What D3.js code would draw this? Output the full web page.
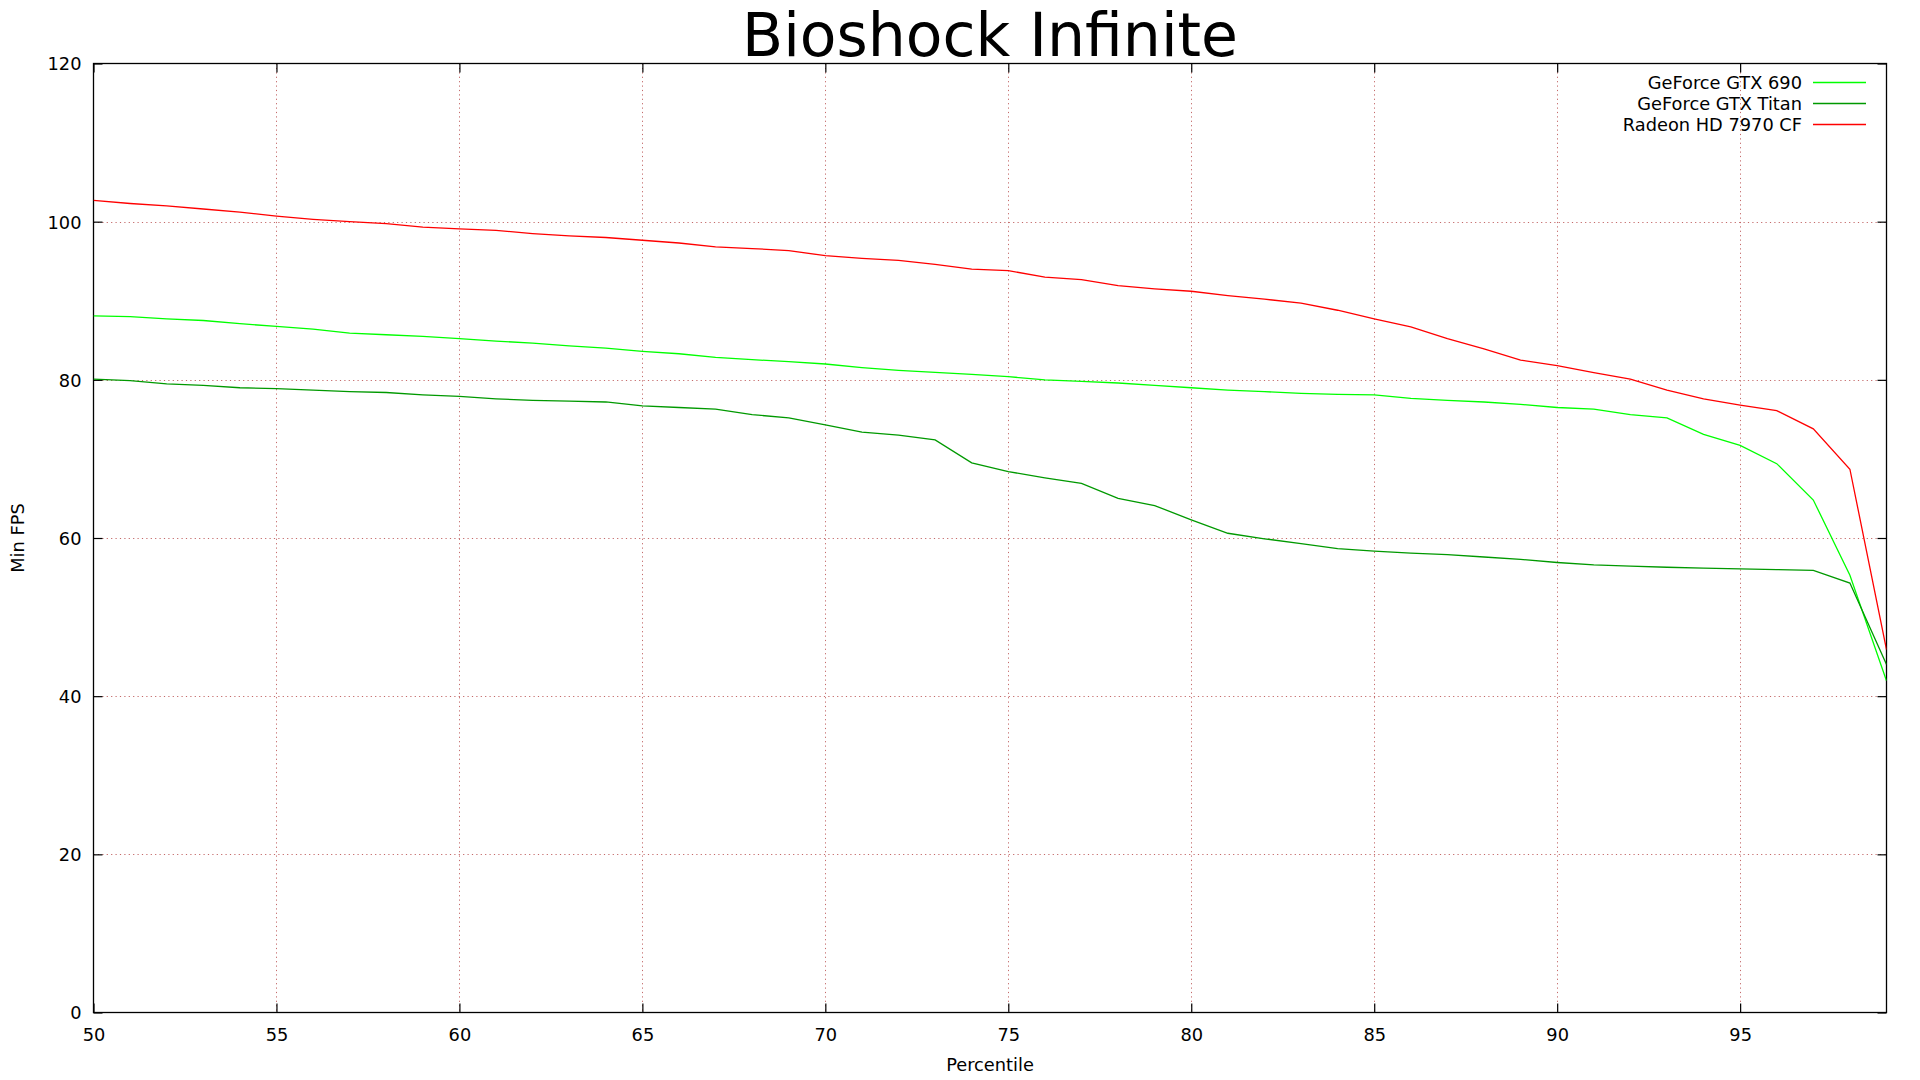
<!DOCTYPE html>
<html>
<head>
<meta charset="utf-8">
<script src="https://cdn.jsdelivr.net/npm/d3@7"></script>
<style>
  html, body { margin: 0; padding: 0; background: #fff; }
  svg { display: block; }
  text { font-family: "DejaVu Sans", sans-serif; }
</style>
</head>
<body>
<svg id="chart" width="1920" height="1080"></svg>
<script>
const title = "Bioshock Infinite";
const xLabel = "Percentile";
const yLabel = "Min FPS";
const percentiles = [50,51,52,53,54,55,56,57,58,59,60,61,62,63,64,65,66,67,68,69,70,71,72,73,74,75,76,77,78,79,80,81,82,83,84,85,86,87,88,89,90,91,92,93,94,95,96,97,98,99];
const gtx690 = [88.1,88.0,87.7,87.5,87.1,86.75,86.4,85.9,85.7,85.5,85.2,84.9,84.65,84.3,84.0,83.6,83.3,82.85,82.55,82.3,82.0,81.55,81.2,80.95,80.7,80.4,80.0,79.8,79.6,79.3,79.0,78.7,78.5,78.3,78.15,78.1,77.65,77.4,77.2,76.9,76.5,76.3,75.6,75.2,73.1,71.7,69.4,64.8,55.3,41.95];
const gtxTitan = [80.1,79.9,79.5,79.3,79.0,78.9,78.7,78.5,78.4,78.1,77.9,77.6,77.4,77.3,77.2,76.7,76.5,76.3,75.6,75.2,74.3,73.4,73.0,72.4,69.5,68.4,67.6,66.9,65.0,64.1,62.3,60.6,59.9,59.3,58.65,58.35,58.1,57.9,57.6,57.3,56.9,56.6,56.45,56.3,56.2,56.1,56.0,55.9,54.3,44.0];
const radeon7970cf = [102.7,102.3,102.0,101.6,101.2,100.7,100.3,100.0,99.75,99.3,99.1,98.9,98.5,98.2,98.0,97.65,97.3,96.8,96.6,96.35,95.7,95.35,95.1,94.6,94.0,93.8,93.0,92.66,91.9,91.5,91.2,90.65,90.2,89.7,88.8,87.7,86.7,85.2,83.9,82.5,81.8,80.9,80.1,78.7,77.6,76.8,76.1,73.8,68.7,45.9];
const seriesNames = ["GeForce GTX 690", "GeForce GTX Titan", "Radeon HD 7970 CF"];
const seriesColors = ["#00ff00", "#009900", "#ff0000"];
const xTicks = [50,55,60,65,70,75,80,85,90,95];
const yTicks = [0,20,40,60,80,100,120];

const seriesValues = [gtx690, gtxTitan, radeon7970cf];

const svg = d3.select("#chart");
const L = 93.5, R = 1886.5, T = 63.5, B = 1012.5;
const x = d3.scaleLinear().domain([50, 99]).range([L, R]);
const y = d3.scaleLinear().domain([0, 120]).range([B, T]);

// grid
const grid = svg.append("g").attr("stroke", "#c46a6a").attr("stroke-width", 1).attr("stroke-dasharray", "1.2,3.2");
grid.selectAll("line.gx").data(xTicks.filter(d => d > 50)).join("line")
  .attr("x1", d => Math.round(x(d)) + 0.5).attr("x2", d => Math.round(x(d)) + 0.5)
  .attr("y1", T).attr("y2", B);
grid.selectAll("line.gy").data(yTicks.filter(d => d > 0 && d < 120)).join("line")
  .attr("y1", d => Math.round(y(d)) + 0.5).attr("y2", d => Math.round(y(d)) + 0.5)
  .attr("x1", L).attr("x2", R);

// axes
const fs = "17.8px";
const ax = svg.append("g").attr("transform", `translate(0,${B})`)
  .call(d3.axisBottom(x).tickValues(xTicks).tickSizeInner(-9).tickSizeOuter(0).tickPadding(16));
const ay = svg.append("g").attr("transform", `translate(${L},0)`)
  .call(d3.axisLeft(y).tickValues(yTicks).tickSizeInner(-9).tickSizeOuter(0).tickPadding(12));
const at = svg.append("g").attr("transform", `translate(0,${T})`)
  .call(d3.axisTop(x).tickValues(xTicks).tickSizeInner(-9).tickSizeOuter(0).tickFormat(""));
const ar = svg.append("g").attr("transform", `translate(${R},0)`)
  .call(d3.axisRight(y).tickValues(yTicks).tickSizeInner(-9).tickSizeOuter(0).tickFormat(""));
[ax, ay, at, ar].forEach(g => {
  g.selectAll(".domain").remove();
  g.selectAll("line").attr("stroke", "#000").attr("stroke-width", 1.2);
  g.selectAll("text").attr("font-size", fs).attr("font-family", "DejaVu Sans").attr("fill", "#000");
});
ay.selectAll("text").attr("dy", "0.36em");

// border
svg.append("rect").attr("x", L).attr("y", T).attr("width", R - L).attr("height", B - T)
  .attr("fill", "none").attr("stroke", "#000").attr("stroke-width", 1.3);

// lines
const clip = svg.append("clipPath").attr("id", "clip").append("rect")
  .attr("x", L).attr("y", T).attr("width", R - L).attr("height", B - T);
const line = d3.line().x((d, i) => x(percentiles[i])).y(d => y(d));
svg.append("g").attr("clip-path", "url(#clip)")
  .selectAll("path").data(seriesValues).join("path")
  .attr("d", d => line(d)).attr("fill", "none")
  .attr("stroke", (d, i) => seriesColors[i]).attr("stroke-width", 1.3);

// legend
const lg = svg.append("g");
seriesNames.forEach((n, i) => {
  const yy = 82.5 + i * 21;
  lg.append("text").attr("x", 1802).attr("y", yy).attr("dy", "0.36em")
    .attr("text-anchor", "end").attr("font-size", fs).text(n);
  lg.append("line").attr("x1", 1813).attr("x2", 1866).attr("y1", yy).attr("y2", yy)
    .attr("stroke", seriesColors[i]).attr("stroke-width", 1.3);
});

// titles
svg.append("text").attr("x", (L + R) / 2).attr("y", 56).attr("text-anchor", "middle")
  .attr("font-size", "60px").text(title);
svg.append("text").attr("x", (L + R) / 2).attr("y", 1071).attr("text-anchor", "middle")
  .attr("font-size", fs).text(xLabel);
svg.append("text").attr("transform", `translate(24,${(T + B) / 2}) rotate(-90)`)
  .attr("text-anchor", "middle").attr("font-size", fs).text(yLabel);
</script>
</body>
</html>
